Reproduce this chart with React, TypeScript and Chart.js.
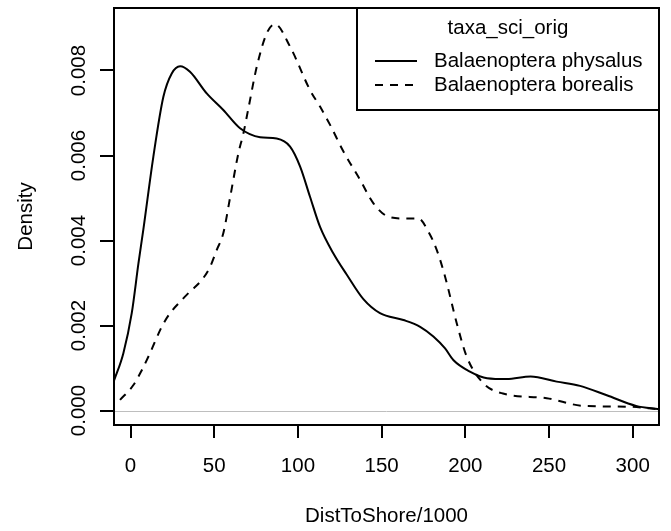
import React, { useEffect, useRef } from 'react';
import { Chart, registerables } from 'chart.js';

Chart.register(...registerables);

const seriesNames = ['Balaenoptera physalus', 'Balaenoptera borealis'];
const legendTitle = 'taxa_sci_orig';
const xTitle = 'DistToShore/1000';
const yTitle = 'Density';
const xTicks = [0, 50, 100, 150, 200, 250, 300];
const yTicks = [0, 0.002, 0.004, 0.006, 0.008];
const yTickLabels = ['0.000', '0.002', '0.004', '0.006', '0.008'];
const xLimits = [-9.9, 315.7];
const yLimits = [-0.00034, 0.00947];

const physalusX = [-9.9, -4.3, 0.7, 4.7, 7.6, 13.6, 19.6, 24.6, 29.6, 35.5, 45.5, 55.4, 65.4, 77.4, 87.3, 95.3, 101.3, 107.2, 113.2, 121.1, 129.1, 139.1, 149, 163, 173, 180.9, 187.9, 192.8, 203, 213, 224.7, 239, 254.6, 268.5, 284.5, 302, 315.7];
const physalusY = [0.0007, 0.00135, 0.00229, 0.00346, 0.00425, 0.00597, 0.00738, 0.00793, 0.0081, 0.00797, 0.00746, 0.00707, 0.00664, 0.00643, 0.0064, 0.00621, 0.00574, 0.00503, 0.00432, 0.0037, 0.0032, 0.00262, 0.00229, 0.00213, 0.00197, 0.00174, 0.00146, 0.00119, 0.00091, 0.00076, 0.00074, 0.0008, 0.00068, 0.00058, 0.00036, 0.00011, 0.00003];

const borealisX = [-6.3, 1.7, 6.7, 11.6, 18.6, 23.6, 29.6, 35.5, 42.5, 47.5, 51.5, 55.4, 59.4, 64.4, 67.4, 70.4, 75.4, 81.4, 86.3, 95.3, 107.2, 113.2, 119.2, 127.1, 137.1, 145, 154, 163, 171.9, 177.9, 182.9, 187.9, 194.9, 200.8, 210.8, 222.5, 248.6, 270.5, 298, 315.7];
const borealisY = [0.00025, 0.0006, 0.00095, 0.00135, 0.00197, 0.00229, 0.00256, 0.0028, 0.00307, 0.00338, 0.00378, 0.00417, 0.005, 0.00605, 0.00652, 0.00711, 0.00809, 0.00888, 0.00909, 0.00856, 0.00754, 0.00715, 0.00672, 0.0061, 0.00543, 0.00488, 0.00456, 0.00452, 0.00452, 0.00421, 0.00378, 0.00315, 0.00205, 0.00127, 0.00064, 0.0004, 0.00029, 0.00011, 0.00009, 0.00003];

const FONT = '20.5px "Liberation Sans", Arial, Helvetica, sans-serif';
const DASH = [8, 7];

const toPoints = (xs: number[], ys: number[]) => xs.map((x, i) => ({ x, y: ys[i] }));

const rPlotPlugin = {
  id: 'rPlot',
  beforeDatasetsDraw(chart: any) {
    const { ctx, chartArea } = chart;
    const y0 = chart.scales.y.getPixelForValue(0);
    ctx.save();
    ctx.strokeStyle = '#bebebe';
    ctx.lineWidth = 1;
    ctx.beginPath();
    ctx.moveTo(chartArea.left, Math.round(y0) + 0.5);
    ctx.lineTo(chartArea.right, Math.round(y0) + 0.5);
    ctx.stroke();
    ctx.restore();
  },
  afterDraw(chart: any) {
    const { ctx, chartArea } = chart;
    const xs = chart.scales.x;
    const ys = chart.scales.y;
    ctx.save();
    // plot box
    ctx.strokeStyle = '#000';
    ctx.lineWidth = 2;
    ctx.setLineDash([]);
    ctx.strokeRect(chartArea.left, chartArea.top, chartArea.right - chartArea.left, chartArea.bottom - chartArea.top);

    ctx.fillStyle = '#000';
    ctx.font = FONT;
    // x tick labels
    ctx.textAlign = 'center';
    ctx.textBaseline = 'alphabetic';
    xTicks.forEach((v) => {
      ctx.fillText(String(v), xs.getPixelForValue(v), chartArea.bottom + 47);
    });
    // x title
    ctx.fillText(xTitle, (chartArea.left + chartArea.right) / 2, chartArea.bottom + 97);

    // y tick labels, rotated
    yTicks.forEach((v, i) => {
      ctx.save();
      ctx.translate(chartArea.left - 29, ys.getPixelForValue(v));
      ctx.rotate(-Math.PI / 2);
      ctx.textAlign = 'center';
      ctx.fillText(yTickLabels[i], 0, 0);
      ctx.restore();
    });
    // y title
    ctx.save();
    ctx.translate(chartArea.left - 82, (chartArea.top + chartArea.bottom) / 2);
    ctx.rotate(-Math.PI / 2);
    ctx.textAlign = 'center';
    ctx.fillText(yTitle, 0, 0);
    ctx.restore();

    // legend
    const lx = chartArea.right - 302;
    const ly = chartArea.top;
    const lw = 302;
    const lh = 102;
    ctx.fillStyle = '#fff';
    ctx.fillRect(lx, ly, lw, lh);
    ctx.strokeStyle = '#000';
    ctx.lineWidth = 2;
    ctx.strokeRect(lx, ly, lw, lh);
    ctx.fillStyle = '#000';
    ctx.textAlign = 'center';
    ctx.fillText(legendTitle, lx + lw / 2, ly + 25.5);
    ctx.textAlign = 'left';
    const rows = [ly + 53, ly + 77];
    chart.data.datasets.forEach((ds: any, i: number) => {
      const yy = rows[i];
      ctx.save();
      ctx.strokeStyle = ds.borderColor;
      ctx.lineWidth = ds.borderWidth;
      ctx.setLineDash(ds.borderDash || []);
      ctx.beginPath();
      ctx.moveTo(lx + 18, yy);
      ctx.lineTo(lx + 60, yy);
      ctx.stroke();
      ctx.restore();
      ctx.fillText(ds.label, lx + 77, yy + 6);
    });
    ctx.restore();
  },
};

export default function App() {
  const canvasRef = useRef<HTMLCanvasElement | null>(null);

  useEffect(() => {
    const canvas = canvasRef.current;
    if (!canvas) return;
    const chart = new Chart(canvas, {
      type: 'line',
      data: {
        datasets: [
          {
            label: seriesNames[0],
            data: toPoints(physalusX, physalusY),
            borderColor: '#000',
            borderWidth: 2,
            borderDash: [],
            pointRadius: 0,
            fill: false,
            cubicInterpolationMode: 'monotone',
          },
          {
            label: seriesNames[1],
            data: toPoints(borealisX, borealisY),
            borderColor: '#000',
            borderWidth: 2,
            borderDash: DASH,
            pointRadius: 0,
            fill: false,
            cubicInterpolationMode: 'monotone',
          },
        ],
      },
      options: {
        animation: false,
        responsive: false,
        devicePixelRatio: 1,
        layout: { padding: { top: 8, right: 12, left: 0, bottom: 0 } },
        plugins: { legend: { display: false }, tooltip: { enabled: false } },
        scales: {
          x: {
            type: 'linear',
            min: xLimits[0],
            max: xLimits[1],
            afterBuildTicks: (scale: any) => {
              scale.ticks = xTicks.map((v) => ({ value: v }));
            },
            afterFit: (scale: any) => {
              scale.height = 106;
            },
            ticks: { display: false },
            grid: { drawOnChartArea: false, drawTicks: true, tickLength: 13, color: '#000', lineWidth: 2 },
            border: { display: false },
          },
          y: {
            type: 'linear',
            min: yLimits[0],
            max: yLimits[1],
            afterBuildTicks: (scale: any) => {
              scale.ticks = yTicks.map((v) => ({ value: v }));
            },
            afterFit: (scale: any) => {
              scale.width = 114;
            },
            ticks: { display: false },
            grid: { drawOnChartArea: false, drawTicks: true, tickLength: 14, color: '#000', lineWidth: 2 },
            border: { display: false },
          },
        },
      },
      plugins: [rPlotPlugin],
    } as any);
    return () => chart.destroy();
  }, []);

  return (
    <div style={{ position: 'absolute', left: 0, top: 0, width: 671, height: 531, background: '#fff' }}>
      <canvas ref={canvasRef} width={671} height={531} style={{ display: 'block', width: 671, height: 531 }} />
    </div>
  );
}
